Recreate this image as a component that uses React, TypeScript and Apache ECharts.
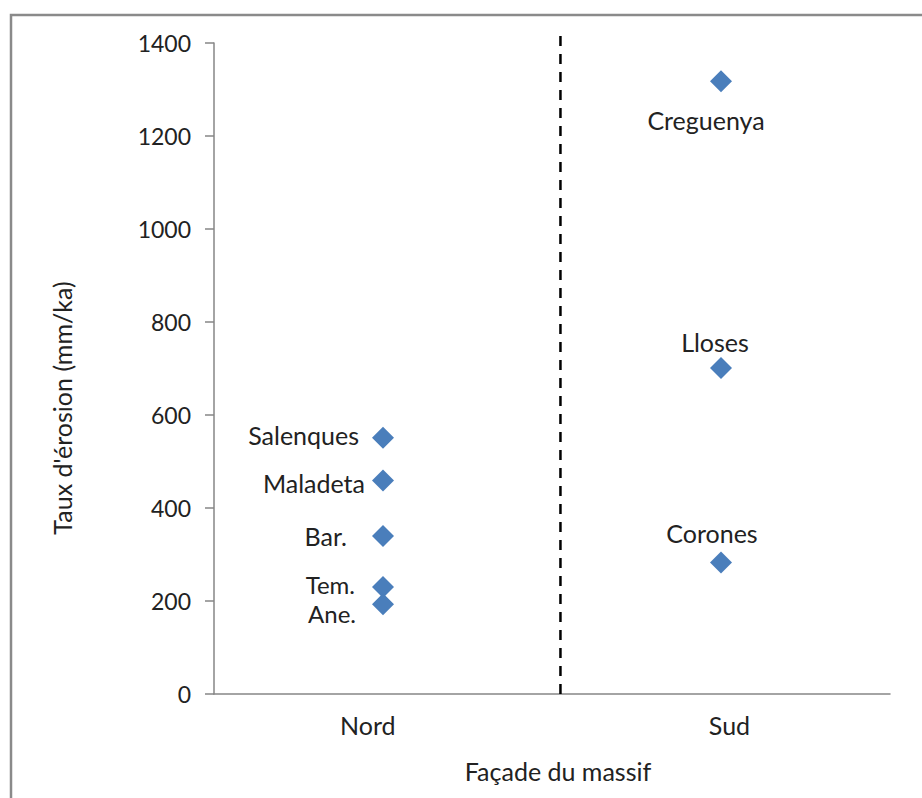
import React, { useEffect, useRef } from "react";
import * as echarts from "echarts";

// Data
const siteNames = ["Salenques", "Maladeta", "Bar.", "Tem.", "Ane.", "Creguenya", "Lloses", "Corones"];
const siteSide = [1, 1, 1, 1, 1, 3, 3, 3]; // x position: 1 = Nord, 3 = Sud
const erosionRates = [551, 459, 340, 230, 193, 1318, 701, 283];

const xCategories = ["Nord", "Sud"];
const xCategoryTickPos = [0.91, 3.05];
const yTicks = [0, 200, 400, 600, 800, 1000, 1200, 1400];
const dividerX = 2.05;

const yTitle = "Taux d'érosion (mm/ka)";
const xTitle = "Façade du massif";

// Label styling per point (style only)
const labelStyles: any[] = [
  { position: "left", distance: 13, offset: [0, -3] },
  { position: "left", distance: 7, offset: [0, 2] },
  { position: "left", distance: 25, offset: [0, 0] },
  { position: "left", distance: 17, offset: [0, -3], fontSize: 24, lineHeight: 22 },
  { position: "left", distance: 16, offset: [0, 9], fontSize: 24, lineHeight: 22 },
  { position: "bottom", distance: 15, offset: [-15, 0] },
  { position: "top", distance: 2.5, offset: [-6, 0] },
  { position: "top", distance: 5.5, offset: [-9, 0] },
];

const FONT = "Lato, 'Open Sans', sans-serif";
const TXT = "#222222";
const AXIS = "#868686";
const FS = 25;

export default function App() {
  const ref = useRef<HTMLDivElement>(null);
  useEffect(() => {
    if (!ref.current) return;
    const chart = echarts.init(ref.current, undefined, { renderer: "svg" });
    const data = siteNames.map((n, i) => ({
      name: n,
      value: [siteSide[i], erosionRates[i]],
      label: { show: true, ...labelStyles[i] },
    }));
    chart.setOption({
      animation: false,
      backgroundColor: "#ffffff",
      textStyle: { fontFamily: FONT },
      grid: { left: 214, top: 43, right: 32, bottom: 104, containLabel: false },
      xAxis: {
        type: "value",
        min: 0,
        max: 4,
        splitLine: { show: false },
        axisLine: { show: true, onZero: false, lineStyle: { color: AXIS, width: 1.5 } },
        axisTick: { show: false },
        axisLabel: {
          show: true,
          customValues: xCategoryTickPos,
          formatter: (v: number) => {
            const idx = xCategoryTickPos.findIndex((p) => Math.abs(p - v) < 1e-6);
            return idx >= 0 ? xCategories[idx] : "";
          },
          margin: 18,
          fontSize: FS,
          color: TXT,
          fontFamily: FONT,
        },
      },
      yAxis: {
        type: "value",
        min: 0,
        max: 1400,
        interval: 200,
        splitLine: { show: false },
        axisLine: { show: true, lineStyle: { color: AXIS, width: 1.5 } },
        axisTick: { show: true, inside: false, length: 9, lineStyle: { color: AXIS, width: 1.5 } },
        axisLabel: {
          margin: 23,
          fontSize: 23,
          color: TXT,
          fontFamily: FONT,
          formatter: (v: number) => (yTicks.includes(v) ? String(v) : ""),
        },
      },
      series: [
        {
          type: "line",
          silent: true,
          clip: false,
          symbol: "none",
          data: [
            [dividerX, 0],
            [dividerX, 1416],
          ],
          lineStyle: { color: "#000000", width: 2.5, type: [10, 8] },
          z: 1,
        },
        {
          type: "scatter",
          symbol: "diamond",
          symbolSize: 22,
          itemStyle: { color: "#4A7EBB", opacity: 1 },
          data,
          label: {
            show: true,
            formatter: "{b}",
            fontSize: FS,
            color: TXT,
            fontFamily: FONT,
          },
          z: 3,
        },
      ],
      graphic: [
        {
          type: "rect",
          shape: { x: 11, y: 15, width: 1000, height: 900 },
          style: { fill: "none", stroke: "#8a8a8a", lineWidth: 2.5 },
          silent: true,
          z: 0,
        },
        {
          type: "text",
          x: 62,
          y: 408,
          rotation: Math.PI / 2,
          style: {
            text: yTitle,
            fontSize: FS,
            fontFamily: FONT,
            fill: TXT,
            align: "center",
            verticalAlign: "middle",
          },
        },
        {
          type: "text",
          x: 558,
          y: 771,
          style: {
            text: xTitle,
            fontSize: FS,
            fontFamily: FONT,
            fill: TXT,
            align: "center",
            verticalAlign: "middle",
          },
        },
      ],
    });
    return () => chart.dispose();
  }, []);
  return <div ref={ref} style={{ width: 922, height: 798, position: "absolute", left: 0, top: 0 }} />;
}
